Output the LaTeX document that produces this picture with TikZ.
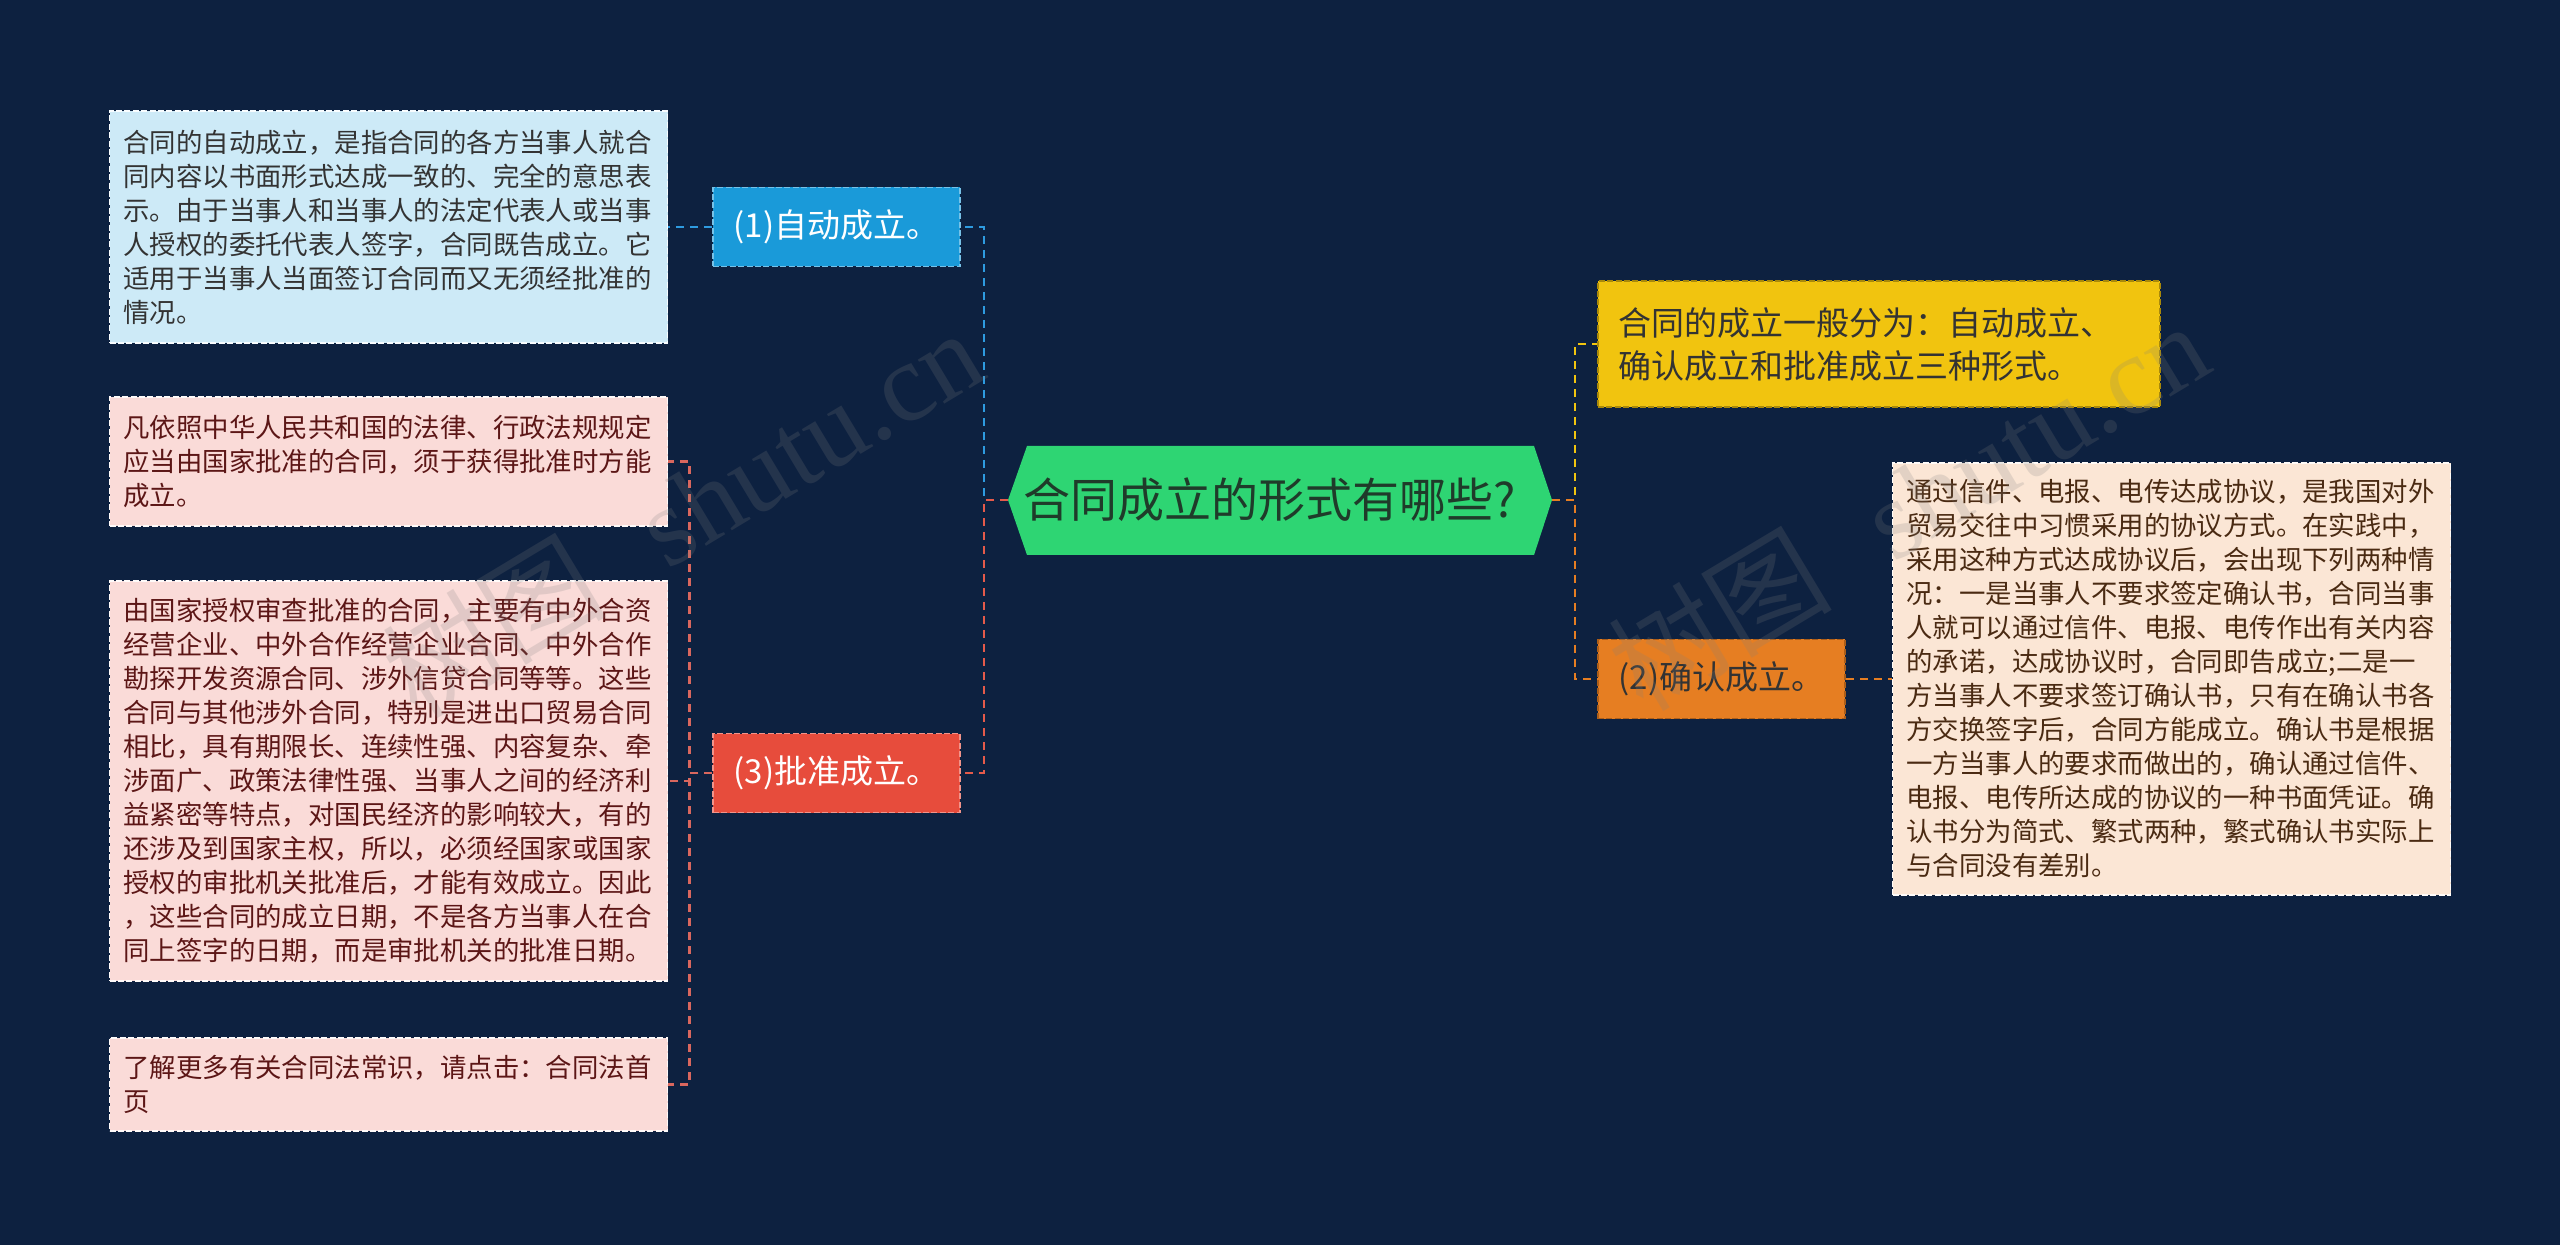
\documentclass[tikz,border=0pt]{standalone}
\usepackage{fontspec}
\setmainfont{Noto Sans CJK SC}
\newfontfamily\wmlatin{Liberation Serif}
\definecolor{bg}{HTML}{0D2140}
\definecolor{boxblue}{HTML}{CDEAF7}
\definecolor{nodeblue}{HTML}{1A9AD9}
\definecolor{boxpink}{HTML}{FADBD8}
\definecolor{nodered}{HTML}{E74C3C}
\definecolor{cgreen}{HTML}{2ED573}
\definecolor{cyellow}{HTML}{F1C40F}
\definecolor{corange}{HTML}{E67E22}
\definecolor{boxpeach}{HTML}{FBE6D5}
\definecolor{lineblue}{HTML}{2E9BE0}
\definecolor{linered}{HTML}{E55A4A}
\definecolor{linepink}{HTML}{D9675E}
\definecolor{txtdark}{HTML}{333333}
\definecolor{txtred}{HTML}{5C1616}
\definecolor{txtbrown}{HTML}{4A2A12}
\definecolor{txtgreen}{HTML}{1F3B2A}
\begin{document}
\begin{tikzpicture}[x=0.5pt,y=-0.5pt,
  txtbox/.style={draw, dash pattern=on 3pt off 1.2pt, line width=0.8pt,
    inner xsep=7pt, inner ysep=0pt, text width=265pt, align=left,
    minimum width=277.5pt, font=\fontsize{13.2}{17}\selectfont},
  midnode/.style={draw, dash pattern=on 3pt off 1.2pt, line width=0.8pt,
    inner sep=0pt, minimum width=123.5pt, minimum height=39.5pt,
    font=\fontsize{16.5}{20}\selectfont},
  conn/.style={line width=1.3pt, dash pattern=on 4pt off 3pt},
  wm/.style={rotate=31, text=gray, text opacity=0.2, inner sep=0pt,
    font=\fontsize{56}{60}\selectfont}
]
\useasboundingbox (0,0) rectangle (2560,1245);
\fill[bg] (0,0) rectangle (2560,1245);

% center hexagon
\fill[cgreen] (1008,500) -- (1027,446) -- (1534,446) -- (1552,500) -- (1534,555) -- (1027,555) -- cycle;
\node[text=txtgreen, font=\fontsize{23.5}{27}\selectfont, inner sep=0pt] (c) at (1270,500) {合同成立的形式有哪些?};
\coordinate (cl) at (1008,500);
\coordinate (cr) at (1552,500);

% left branch nodes
\node[midnode, fill=nodeblue, draw=nodeblue!60!white, text=white] (n1) at (836.5,227) {(1)自动成立。};
\node[midnode, fill=nodered, draw=nodered!60!white, text=white] (n3) at (836.5,773) {(3)批准成立。};

\node[txtbox, fill=boxblue, draw=white!85!boxblue, text=txtdark, minimum height=116pt] (b1) at (388.5,227) {合同的自动成立，是指合同的各方当事人就合\\同内容以书面形式达成一致的、完全的意思表\\示。由于当事人和当事人的法定代表人或当事\\人授权的委托代表人签字，合同既告成立。它\\适用于当事人当面签订合同而又无须经批准的\\情况。};

\node[txtbox, fill=boxpink, draw=white!85!boxpink, text=txtred, minimum height=64.5pt] (b2) at (388.5,461.5) {凡依照中华人民共和国的法律、行政法规规定\\应当由国家批准的合同，须于获得批准时方能\\成立。};

\node[txtbox, fill=boxpink, draw=white!85!boxpink, text=txtred, minimum height=200pt] (b3) at (388.5,781) {由国家授权审查批准的合同，主要有中外合资\\经营企业、中外合作经营企业合同、中外合作\\勘探开发资源合同、涉外信贷合同等等。这些\\合同与其他涉外合同，特别是进出口贸易合同\\相比，具有期限长、连续性强、内容复杂、牵\\涉面广、政策法律性强、当事人之间的经济利\\益紧密等特点，对国民经济的影响较大，有的\\还涉及到国家主权，所以，必须经国家或国家\\授权的审批机关批准后，才能有效成立。因此\\，这些合同的成立日期，不是各方当事人在合\\同上签字的日期，而是审批机关的批准日期。};

\node[txtbox, fill=boxpink, draw=white!85!boxpink, text=txtred, minimum height=46.5pt] (b4) at (388.5,1084.5) {了解更多有关合同法常识，请点击：合同法首\\页};

% right branch nodes
\node[draw, dash pattern=on 3pt off 1.2pt, line width=0.8pt, fill=cyellow, draw=cyellow!70!black,
  text=txtdark, inner xsep=10pt, inner ysep=0pt, text width=261pt, align=left,
  minimum width=281pt, minimum height=63pt, font=\fontsize{16.5}{21.5}\selectfont] (ny) at (1879,344)
  {合同的成立一般分为：自动成立、\\确认成立和批准成立三种形式。};
\node[midnode, fill=corange, draw=corange!75!black, text=txtdark] (n2) at (1721.5,679) {(2)确认成立。};
\node[txtbox, fill=boxpeach, draw=white!85!boxpeach, text=txtbrown, minimum height=216pt] (rb) at (2171.5,679) {通过信件、电报、电传达成协议，是我国对外\\贸易交往中习惯采用的协议方式。在实践中，\\采用这种方式达成协议后，会出现下列两种情\\况：一是当事人不要求签定确认书，合同当事\\人就可以通过信件、电报、电传作出有关内容\\的承诺，达成协议时，合同即告成立;二是一\\方当事人不要求签订确认书，只有在确认书各\\方交换签字后，合同方能成立。确认书是根据\\一方当事人的要求而做出的，确认通过信件、\\电报、电传所达成的协议的一种书面凭证。确\\认书分为简式、繁式两种，繁式确认书实际上\\与合同没有差别。};

% connectors
\draw[conn, lineblue] (cl) -- ++(-24,0) |- (n1.east);
\draw[conn, linered] (cl) -- ++(-24,0) |- (n3.east);
\draw[conn, lineblue] (n1.west) -- (b1.east);
\draw[conn, linepink] (n3.west) -- ++(-23,0) |- (b2.east);
\draw[conn, linepink] (n3.west) -- ++(-23,0) |- (b3.east);
\draw[conn, linepink] (n3.west) -- ++(-23,0) |- (b4.east);
\draw[conn, cyellow] (cr) -- ++(23,0) |- (ny.west);
\draw[conn, corange] (cr) -- ++(23,0) |- (n2.west);
\draw[conn, corange] (n2.east) -- (rb.west);

% watermark
\node[wm] (wm1) at (682,512) {树图\hspace{0.6em}{\wmlatin shutu.cn}};
\node[wm] (wm2) at (1908,505) {树图\hspace{0.6em}{\wmlatin shutu.cn}};
\end{tikzpicture}
\end{document}
